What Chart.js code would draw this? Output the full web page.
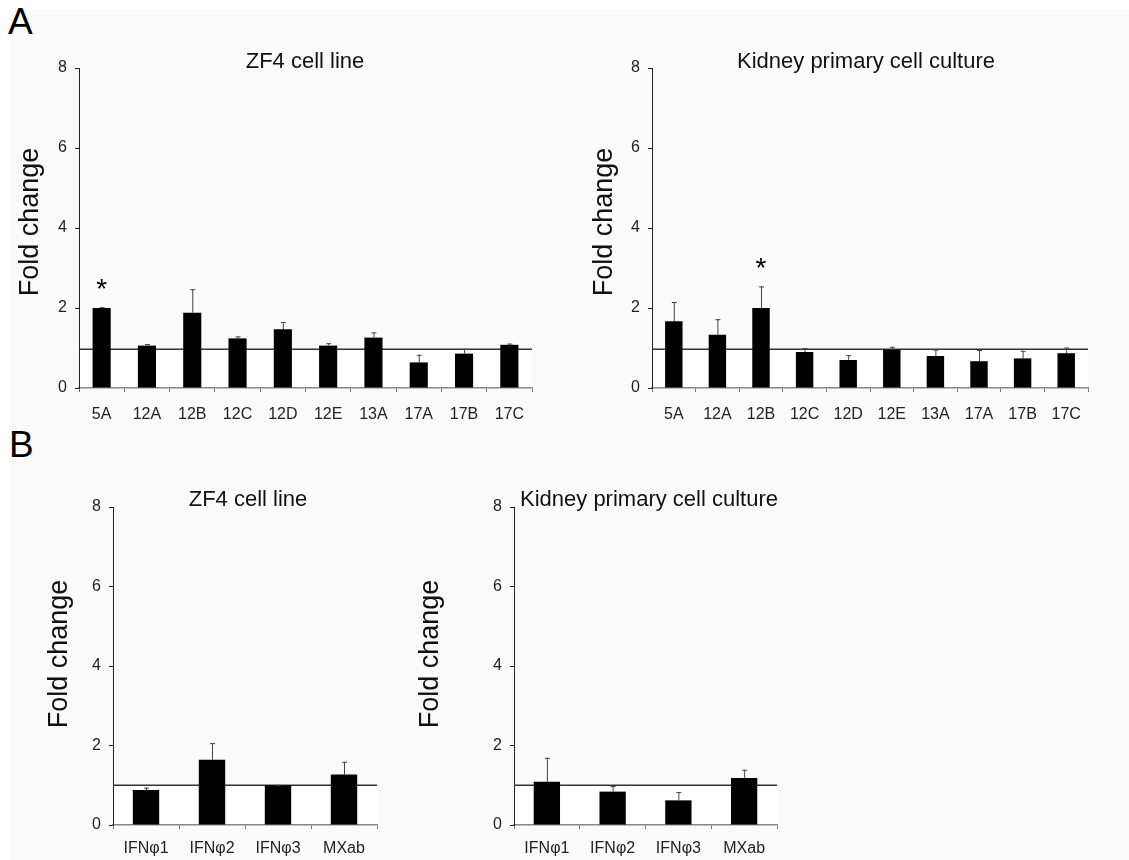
<!DOCTYPE html>
<html>
<head>
<meta charset="utf-8">
<script src="https://cdn.jsdelivr.net/npm/chart.js@4/dist/chart.umd.min.js"></script>
<style>
  html, body { margin:0; padding:0; background:#ffffff; }
  #fig { position:absolute; left:0; top:0; width:1129px; height:860px; overflow:hidden; }
  #bg { position:absolute; left:9px; top:9px; width:1120px; height:851px; background:#fafafa; }
  canvas { position:absolute; }
  .letter { position:absolute; font-family:"Liberation Sans", Arial, sans-serif; font-size:37px; color:#000; line-height:1; }
</style>
</head>
<body>
<div id="fig">
  <div id="bg"></div>
  <div class="letter" style="left:8px; top:3px;">A</div>
  <div class="letter" style="left:9px; top:426px;">B</div>
  <canvas id="c1"></canvas>
  <canvas id="c2"></canvas>
  <canvas id="c3"></canvas>
  <canvas id="c4"></canvas>
</div>
<script>
// ---------- DATA ----------
const genesA = ['5A','12A','12B','12C','12D','12E','13A','17A','17B','17C'];
const zf4A = [2.00, 1.06, 1.88, 1.24, 1.47, 1.06, 1.26, 0.64, 0.86, 1.08];
const zf4AErr = [0.02, 0.04, 0.59, 0.05, 0.18, 0.06, 0.13, 0.19, 0.12, 0.03];
const zf4ASig = [true, false, false, false, false, false, false, false, false, false];
const kidneyA = [1.67, 1.33, 2.00, 0.90, 0.70, 0.96, 0.80, 0.67, 0.74, 0.87];
const kidneyAErr = [0.48, 0.39, 0.54, 0.10, 0.12, 0.07, 0.16, 0.28, 0.19, 0.14];
const kidneyASig = [false, false, true, false, false, false, false, false, false, false];

const genesB = ['IFNφ1','IFNφ2','IFNφ3','MXab'];
const zf4B = [0.88, 1.64, 1.00, 1.27];
const zf4BErr = [0.06, 0.42, 0.01, 0.32];
const kidneyB = [1.09, 0.84, 0.62, 1.18];
const kidneyBErr = [0.60, 0.14, 0.21, 0.21];
const noSig = [false, false, false, false];

const baselineA = 0.97;
const baselineB = 1.0;
const yTicks = [0, 2, 4, 6, 8];
const titles = ['ZF4 cell line', 'Kidney primary cell culture'];
const yTitle = 'Fold change';

// ---------- LAYOUT ----------
const FONT = '"Liberation Sans", Arial, sans-serif';
const panels = [
  { id:'c1', cx:0, cy:40, w:560, h:390, L:79, R:532, T:68, B:388, labels:genesA, vals:zf4A, errs:zf4AErr, sig:zf4ASig, ref:baselineA, title:titles[0], tX:305, tY:68, yX:31, yY:222, xPad:13 },
  { id:'c2', cx:560, cy:40, w:569, h:390, L:652, R:1088, T:68, B:388, labels:genesA, vals:kidneyA, errs:kidneyAErr, sig:kidneyASig, ref:baselineA, title:titles[1], tX:866, tY:68, yX:605, yY:222, xPad:13 },
  { id:'c3', cx:0, cy:470, w:400, h:390, L:113, R:377, T:507, B:825, labels:genesB, vals:zf4B, errs:zf4BErr, sig:noSig, ref:baselineB, title:titles[0], tX:248, tY:506, yX:60, yY:654, xPad:10 },
  { id:'c4', cx:400, cy:470, w:420, h:390, L:514, R:777, T:507, B:825, labels:genesB, vals:kidneyB, errs:kidneyBErr, sig:noSig, ref:baselineB, title:titles[1], tX:649, tY:506, yX:431, yY:654, xPad:10 }
];

const decorPlugin = {
  id: 'decor',
  beforeDraw(chart, args, o) {
    const a = chart.chartArea, ctx = chart.ctx;
    const y = chart.scales.y.getPixelForValue(o.ref);
    ctx.save();
    ctx.fillStyle = '#ffffff';
    ctx.fillRect(a.left + 1, y, a.right - a.left - 1, a.bottom - y);
    ctx.restore();
  },
  beforeDatasetsDraw(chart, args, o) {
    const a = chart.chartArea, ctx = chart.ctx;
    const y = chart.scales.y.getPixelForValue(o.ref);
    ctx.save();
    ctx.strokeStyle = '#333333';
    ctx.lineWidth = 1.5;
    ctx.beginPath(); ctx.moveTo(a.left, y); ctx.lineTo(a.right, y); ctx.stroke();
    ctx.restore();
  },
  afterDatasetsDraw(chart, args, o) {
    const ctx = chart.ctx, ys = chart.scales.y;
    const meta = chart.getDatasetMeta(0);
    const data = chart.data.datasets[0].data;
    ctx.save();
    meta.data.forEach((bar, i) => {
      const v = data[i], e = o.errs[i];
      const y0 = ys.getPixelForValue(v);
      const y1 = ys.getPixelForValue(v + e);
      if (e > 0) {
        ctx.strokeStyle = '#444444';
        ctx.lineWidth = 1;
        ctx.beginPath();
        ctx.moveTo(bar.x + 0.5, y0); ctx.lineTo(bar.x + 0.5, y1);
        ctx.moveTo(bar.x - 2, y1 + 0.5); ctx.lineTo(bar.x + 3, y1 + 0.5);
        ctx.stroke();
      }
      if (o.sig[i]) {
        ctx.fillStyle = '#000';
        ctx.font = '28px ' + FONT;
        ctx.textAlign = 'center';
        ctx.textBaseline = 'alphabetic';
        const m = ctx.measureText('*');
        const cyStar = Math.min(y0, y1) - 23;
        const base = cyStar + (m.actualBoundingBoxAscent - m.actualBoundingBoxDescent) / 2;
        ctx.fillText('*', bar.x, base);
      }
    });
    ctx.restore();
  },
  afterDraw(chart, args, o) {
    const ctx = chart.ctx;
    ctx.save();
    ctx.fillStyle = '#111';
    ctx.font = '22px ' + FONT;
    ctx.textAlign = 'center';
    ctx.textBaseline = 'alphabetic';
    ctx.fillText(o.title, o.tX, o.tY);
    ctx.translate(o.yX, o.yY);
    ctx.rotate(-Math.PI / 2);
    ctx.font = '27px ' + FONT;
    ctx.textBaseline = 'middle';
    ctx.fillText(yTitle, 0, 0);
    ctx.restore();
  }
};

panels.forEach(p => {
  const cv = document.getElementById(p.id);
  cv.width = p.w; cv.height = p.h;
  cv.style.left = p.cx + 'px'; cv.style.top = p.cy + 'px';
  cv.style.width = p.w + 'px'; cv.style.height = p.h + 'px';
  new Chart(cv, {
    type: 'bar',
    data: {
      labels: p.labels,
      datasets: [{ data: p.vals, backgroundColor: '#000000', borderWidth: 0, categoryPercentage: 1.0, barPercentage: 0.4 }]
    },
    options: {
      responsive: false,
      animation: false,
      devicePixelRatio: 1,
      layout: { padding: { left: 0, top: p.T - p.cy, right: p.cx + p.w - p.R, bottom: 0 } },
      plugins: {
        legend: { display: false },
        tooltip: { enabled: false },
        title: { display: false },
        decor: { ref: p.ref, errs: p.errs, sig: p.sig, title: p.title,
                 tX: p.tX - p.cx, tY: p.tY - p.cy, yX: p.yX - p.cx, yY: p.yY - p.cy }
      },
      scales: {
        x: {
          grid: { display: true, drawOnChartArea: false, drawTicks: true, tickLength: 4, color: '#777777', offset: true },
          border: { display: true, color: '#888888', width: 1.5 },
          ticks: { color: '#222', font: { family: FONT, size: 16 }, padding: p.xPad, maxRotation: 0, autoSkip: false },
          afterFit(s) { s.height = p.cy + p.h - p.B; }
        },
        y: {
          min: 0, max: 8,
          afterBuildTicks(s) { s.ticks = yTicks.map(v => ({ value: v })); },
          grid: { display: true, drawOnChartArea: false, drawTicks: true, tickLength: 4, color: '#222222' },
          border: { display: true, color: '#222222', width: 1 },
          ticks: { color: '#222', font: { family: FONT, size: 16 }, padding: 8 },
          afterFit(s) { s.width = p.L - p.cx; }
        }
      }
    },
    plugins: [decorPlugin]
  });
});
</script>
</body>
</html>
